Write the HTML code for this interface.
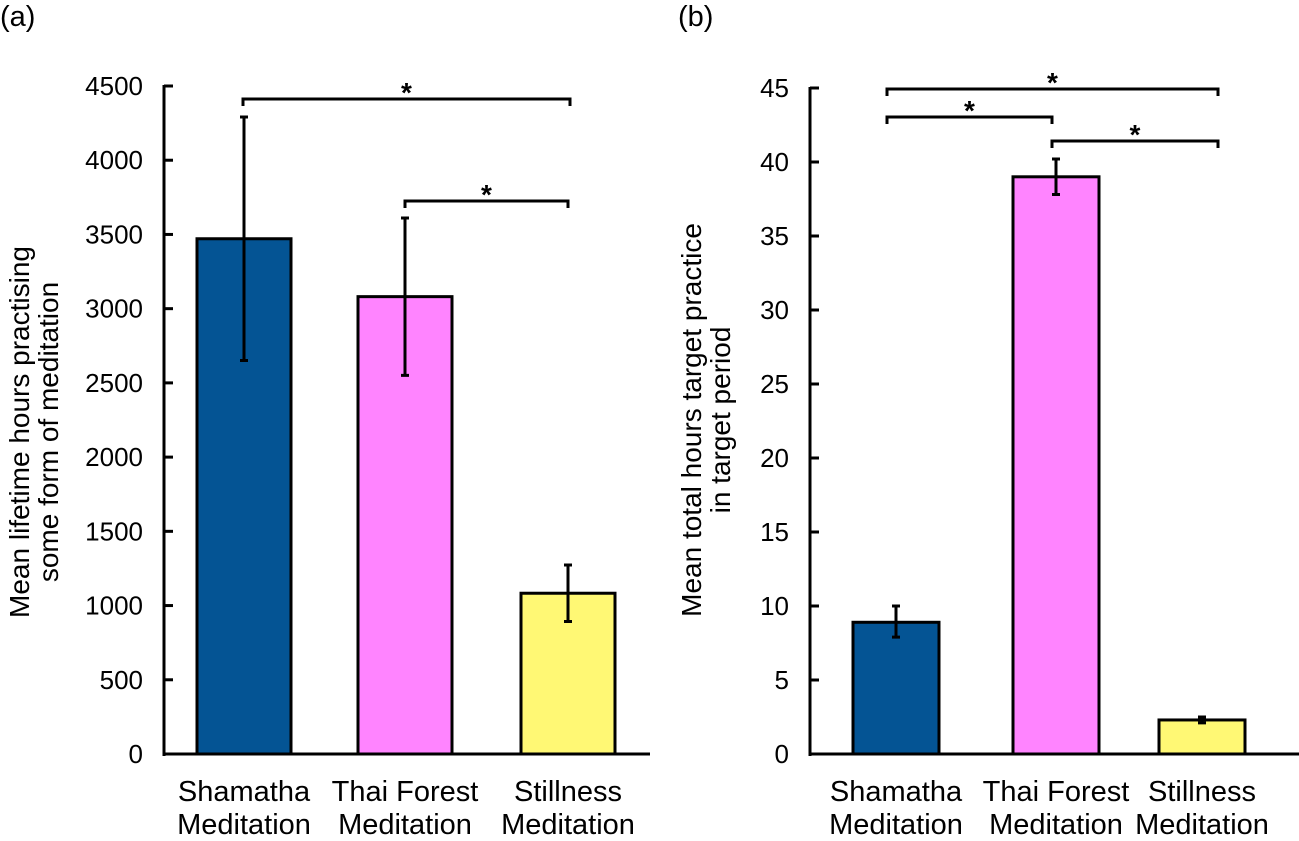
<!DOCTYPE html>
<html><head><meta charset="utf-8"><style>
body{margin:0;background:#fff;width:1299px;height:836px;overflow:hidden}
svg{font-family:"Liberation Sans",Arial,sans-serif}
</style></head><body>
<svg id="c" width="1299" height="836" viewBox="0 0 1299 836" xmlns="http://www.w3.org/2000/svg"></svg>
<script>
const categories = ["Shamatha|Meditation","Thai Forest|Meditation","Stillness|Meditation"];
const colors = ["#045494","#ff84ff","#fff874"];
const valuesA = [3471, 3081, 1083];
const errUpA = [820, 530, 190];
const errDownA = [820, 530, 190];
const ticksA = [0,500,1000,1500,2000,2500,3000,3500,4000,4500];
const valuesB = [8.9, 39.0, 2.3];
const errUpB = [1.1, 1.2, 0.2];
const errDownB = [1.0, 1.2, 0.2];
const ticksB = [0,5,10,15,20,25,30,35,40,45];
const NS="http://www.w3.org/2000/svg";
const svg=document.getElementById('c');
function mk(t,a,p){const e=document.createElementNS(NS,t);for(const k in a)e.setAttribute(k,a[k]);(p||svg).appendChild(e);return e;}
function panel(o){
  const g=mk('g',{});
  
  
  const y=v=>o.y0-(v/o.max)*(o.y0-o.y1);
  const ax=mk('line',{x1:o.ax,y1:o.y1-1,x2:o.ax,y2:o.y0+2,stroke:'#000','stroke-width':3},g);
  
  const bx=mk('line',{x1:o.ax-1,y1:o.y0,x2:o.axEnd,y2:o.y0,stroke:'#000','stroke-width':3},g);
  
  o.ticks.forEach(t=>{
    const tl=mk('line',{x1:o.ax,y1:y(t),x2:o.ax+9,y2:y(t),stroke:'#000','stroke-width':3},g);
    
    const tx=mk('text',{x:o.ax-21,y:y(t)+9,'text-anchor':'end','font-size':26},g);
    tx.textContent=t;
    
  });
  o.vals.forEach((v,i)=>{
    const cx=o.centers[i];
    const r=mk('rect',{x:cx-o.bw/2,y:y(v),width:o.bw,height:o.y0-y(v),fill:colors[i],stroke:'#000','stroke-width':3},g);
    
    const yt=y(v+o.eu[i]),yb=y(v-o.ed[i]);
    const e=mk('path',{d:`M${cx},${yt}V${yb}M${cx-4},${yt}H${cx+4}M${cx-4},${yb}H${cx+4}`,stroke:'#000','stroke-width':3,fill:'none'},g);
    
    const lines=categories[i].split('|');
    lines.forEach((l,j)=>{
      const t=mk('text',{x:cx,y:801+j*33,'text-anchor':'middle','font-size':29},g);
      t.textContent=l;
      
    });
  });
  o.brackets.forEach(b=>{
    const p=mk('path',{d:`M${b[0]},${b[2]+7}V${b[2]}H${b[1]}V${b[2]+7}`,stroke:'#000','stroke-width':3,fill:'none'},g);
    
    const s=mk('text',{x:(b[0]+b[1])/2,y:b[2]+3,'text-anchor':'middle','font-size':28,'font-weight':'bold'},g);
    s.textContent='*';
    
  });
  o.title.forEach((l,j)=>{
    const t=mk('text',{x:0,y:0,'text-anchor':'middle','font-size':28,transform:`translate(${o.tx+j*29},${o.ty}) rotate(-90)`},g);
    t.textContent=l;
    
  });
  const pl=mk('text',{x:o.plx,y:26,'font-size':29},g);
  pl.textContent=o.label;
  
}
panel({name:'panel-a',label:'(a)',plx:0,ax:164,axEnd:650,y0:754,y1:86,max:4500,ticks:ticksA,vals:valuesA,eu:errUpA,ed:errDownA,
  centers:[244,405,568],bw:94,title:['Mean lifetime hours practising','some form of meditation'],tx:29,ty:432,
  brackets:[[243,570,99],[405,568,201]]});
panel({name:'panel-b',label:'(b)',plx:678,ax:810,axEnd:1299,y0:754,y1:88,max:45,ticks:ticksB,vals:valuesB,eu:errUpB,ed:errDownB,
  centers:[896,1056,1202],bw:86,title:['Mean total hours target practice','in target period'],tx:701,ty:420,
  brackets:[[887,1218,89],[887,1052,117],[1052,1218,141]]});
</script>
</body></html>
